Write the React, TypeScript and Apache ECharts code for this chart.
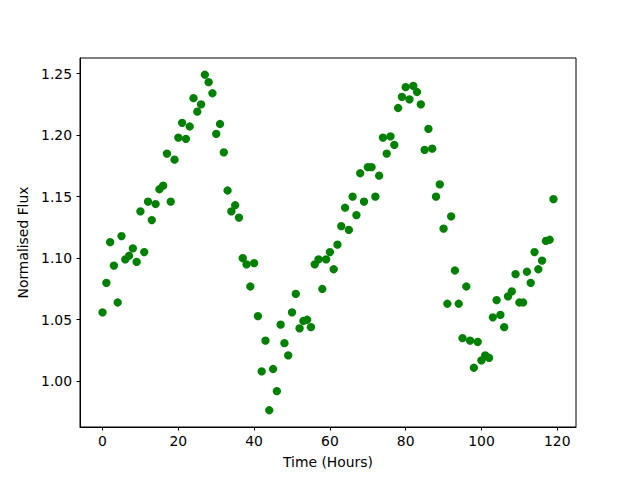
import React, { useEffect, useRef } from "react";
import * as echarts from "echarts";

const hours: number[] = Array.from({ length: 120 }, (_, i) => i);
const flux: number[] = [
  1.056, 1.080, 1.113, 1.094, 1.064, 1.118, 1.099, 1.102, 1.108, 1.097,
  1.138, 1.105, 1.146, 1.131, 1.144, 1.156, 1.159, 1.185, 1.146, 1.180,
  1.198, 1.210, 1.197, 1.207, 1.230, 1.219, 1.225, 1.249, 1.243, 1.234,
  1.201, 1.209, 1.186, 1.155, 1.138, 1.143, 1.133, 1.100, 1.095, 1.077,
  1.096, 1.053, 1.008, 1.033, 0.9765, 1.010, 0.992, 1.046, 1.031, 1.021,
  1.056, 1.071, 1.043, 1.049, 1.050, 1.044, 1.095, 1.099, 1.075, 1.099,
  1.105, 1.091, 1.111, 1.126, 1.141, 1.123, 1.150, 1.135, 1.169, 1.146,
  1.174, 1.174, 1.150, 1.167, 1.198, 1.185, 1.199, 1.192, 1.222, 1.231,
  1.239, 1.229, 1.240, 1.235, 1.225, 1.188, 1.205, 1.189, 1.150, 1.160,
  1.124, 1.063, 1.134, 1.090, 1.063, 1.035, 1.077, 1.033, 1.011, 1.032,
  1.017, 1.021, 1.019, 1.052, 1.066, 1.054, 1.044, 1.069, 1.073, 1.087,
  1.064, 1.064, 1.089, 1.080, 1.105, 1.091, 1.098, 1.114, 1.115, 1.148,
];
const xTicks: number[] = [0, 20, 40, 60, 80, 100, 120];
const yTicks: number[] = [1.0, 1.05, 1.1, 1.15, 1.2, 1.25];

export default function App() {
  const ref = useRef<HTMLDivElement>(null);
  useEffect(() => {
    if (!ref.current) return;
    const chart = echarts.init(ref.current, null, { renderer: "svg" });
    const xMin = Math.min(...hours), xMax = Math.max(...hours);
    const yMin = Math.min(...flux), yMax = Math.max(...flux);
    const xm = (xMax - xMin) * 0.05, ym = (yMax - yMin) * 0.05;
    const font = "DejaVu Sans";
    const fs = 13.9;
    chart.setOption({
      animation: false,
      textStyle: { fontFamily: font },
      grid: {
        left: 80, right: 64, top: 58, bottom: 53,
        show: true, borderColor: "#000", borderWidth: 1, backgroundColor: "#fff",
      },
      xAxis: {
        type: "value",
        min: xMin - xm, max: xMax + xm,
        name: "Time (Hours)", nameLocation: "middle", nameGap: 28,
        nameTextStyle: { color: "#000", fontSize: fs, fontFamily: font },
        axisLine: { show: true, onZero: false, lineStyle: { color: "#000", width: 1 } },
        axisTick: { show: true, length: 3.5, lineStyle: { color: "#000" }, customValues: xTicks },
        axisLabel: { color: "#000", fontSize: fs, fontFamily: font, margin: 7, customValues: xTicks },
        splitLine: { show: false },
      },
      yAxis: {
        type: "value",
        min: yMin - ym, max: yMax + ym,
        name: "Normalised Flux", nameLocation: "middle", nameGap: 46, nameRotate: 90,
        nameTextStyle: { color: "#000", fontSize: fs, fontFamily: font },
        axisLine: { show: true, onZero: false, lineStyle: { color: "#000", width: 1 } },
        axisTick: { show: true, length: 3.5, lineStyle: { color: "#000" }, customValues: yTicks },
        axisLabel: {
          color: "#000", fontSize: fs, fontFamily: font, margin: 8, customValues: yTicks,
          formatter: (v: number) => v.toFixed(2),
        },
        splitLine: { show: false },
      },
      series: [
        {
          type: "scatter",
          data: hours.map((h, i) => [h, flux[i]]),
          symbol: "circle",
          symbolSize: 8.3,
          itemStyle: { color: "#008000", opacity: 1 },
        },
      ],
    });
    return () => chart.dispose();
  }, []);
  return <div ref={ref} style={{ width: 640, height: 480, position: "absolute", left: 0, top: 0 }} />;
}
